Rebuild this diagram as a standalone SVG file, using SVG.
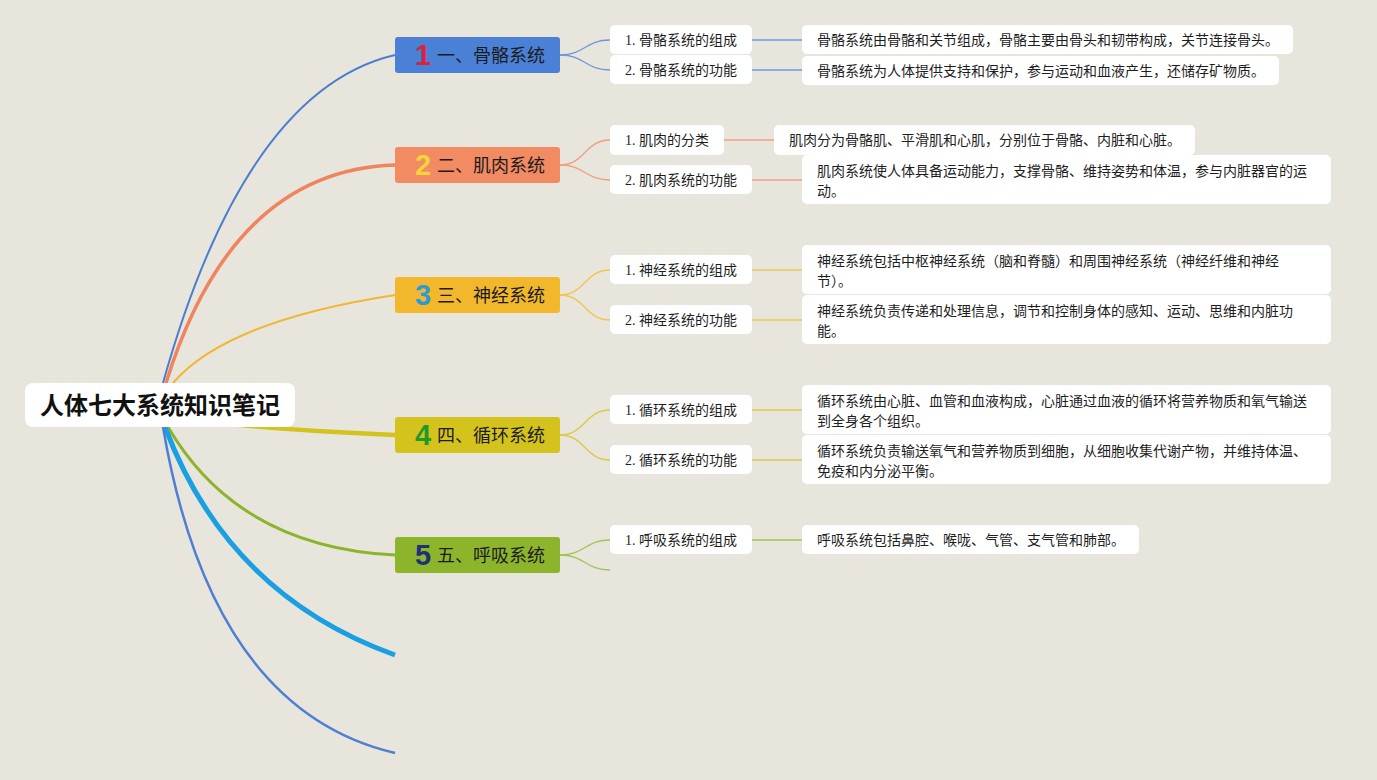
<svg xmlns="http://www.w3.org/2000/svg" width="1377" height="780" viewBox="0 0 1377 780">
<style>
.bg{fill:#e8e5dd}
.root{fill:#ffffff}
.rootT{font-family:"Noto Sans CJK SC","Liberation Sans",sans-serif;font-size:24px;font-weight:700;fill:#111;text-anchor:middle}
.brT{font-family:"Noto Sans CJK SC","Liberation Sans",sans-serif;font-size:18px;fill:#1b1b1b}
.num{font-family:"Liberation Sans","DejaVu Sans",sans-serif;font-size:29px;font-weight:700;text-anchor:middle}
.box{fill:#ffffff}
.chT{font-family:"Liberation Serif","Noto Sans CJK SC",serif;font-size:14px;fill:#1e1e1e}
.dT{font-family:"Noto Sans CJK SC","Liberation Sans",sans-serif;font-size:14px;fill:#1e1e1e}
.main{fill:none;stroke-linecap:butt}
.sub{fill:none;stroke-width:1.3}
</style>
<rect class="bg" x="0" y="0" width="1377" height="780"/>
<g id="connectors">
<path class="main" d="M163 383 Q245 90 395 55" stroke="#4a7fd0" stroke-width="2"/>
<path class="main" d="M166 383 Q232 170 395 165" stroke="#f0845e" stroke-width="3.5"/>
<path class="main" d="M173 383 Q226 321 395 295" stroke="#f0b732" stroke-width="2"/>
<path class="main" d="M170 415 Q230 428 395 435" stroke="#d3c31c" stroke-width="4.5"/>
<path class="main" d="M168 427 Q238 547 395 555" stroke="#8bb42a" stroke-width="3"/>
<path class="main" d="M165 427 Q228 595 395 655" stroke="#1a9fe2" stroke-width="5"/>
<path class="main" d="M163 427 Q211 710 395 753" stroke="#4f7fd3" stroke-width="2.5"/>
<g stroke="#6f98da" class="sub">
<path d="M560 55 C585 55 585 40 610 40"/>
<path d="M560 55 C585 55 585 70 610 70"/>
<path d="M752 40 H802"/>
<path d="M752 70 H802"/>
</g>
<g stroke="#f0a080" class="sub">
<path d="M560 165 C585 165 585 140 610 140"/>
<path d="M560 165 C585 165 585 180 610 180"/>
<path d="M724 140 H774"/>
<path d="M752 180 H802"/>
</g>
<g stroke="#f1c455" class="sub">
<path d="M560 295 C585 295 585 270 610 270"/>
<path d="M560 295 C585 295 585 320 610 320"/>
<path d="M752 270 H802"/>
<path d="M752 320 H802"/>
</g>
<g stroke="#dacb48" class="sub">
<path d="M560 435 C585 435 585 410 610 410"/>
<path d="M560 435 C585 435 585 460 610 460"/>
<path d="M752 410 H802"/>
<path d="M752 460 H802"/>
</g>
<g stroke="#a2c452" class="sub">
<path d="M560 555 C585 555 585 540 610 540"/>
<path d="M560 555 C585 555 585 570 610 570"/>
<path d="M752 540 H802"/>
</g>
</g>
<g id="root">
<rect class="root" x="25" y="383" width="270" height="44" rx="8"/>
<text class="rootT" x="160" y="414">人体七大系统知识笔记</text>
</g>
<g id="b1">
<rect x="395" y="37" width="165" height="36" rx="3" fill="#4a80d6"/>
<text class="num" x="423" y="65" fill="#d8253a">1</text>
<text class="brT" x="437" y="62">一、骨骼系统</text>
</g>
<g id="b2">
<rect x="395" y="147" width="165" height="36" rx="3" fill="#f28a62"/>
<text class="num" x="423" y="175" fill="#f6d43c">2</text>
<text class="brT" x="437" y="172">二、肌肉系统</text>
</g>
<g id="b3">
<rect x="395" y="277" width="165" height="36" rx="3" fill="#f3b72c"/>
<text class="num" x="423" y="305" fill="#2a9ad8">3</text>
<text class="brT" x="437" y="302">三、神经系统</text>
</g>
<g id="b4">
<rect x="395" y="417" width="165" height="36" rx="3" fill="#d5c31d"/>
<text class="num" x="423" y="445" fill="#1f9a2a">4</text>
<text class="brT" x="437" y="442">四、循环系统</text>
</g>
<g id="b5">
<rect x="395" y="537" width="165" height="36" rx="3" fill="#8db52b"/>
<text class="num" x="423" y="565" fill="#1f2f7a">5</text>
<text class="brT" x="437" y="562">五、呼吸系统</text>
</g>
<g id="b1c1"><rect class="box" x="610" y="25" width="142" height="29" rx="5"/><text class="chT" x="625" y="45">1. 骨骼系统的组成</text></g>
<g id="b1c2"><rect class="box" x="610" y="55" width="142" height="29" rx="5"/><text class="chT" x="625" y="75">2. 骨骼系统的功能</text></g>
<g id="b2c1"><rect class="box" x="610" y="125" width="114" height="30" rx="5"/><text class="chT" x="625" y="145">1. 肌肉的分类</text></g>
<g id="b2c2"><rect class="box" x="610" y="165" width="142" height="29" rx="5"/><text class="chT" x="625" y="185">2. 肌肉系统的功能</text></g>
<g id="b3c1"><rect class="box" x="610" y="255" width="142" height="29" rx="5"/><text class="chT" x="625" y="275">1. 神经系统的组成</text></g>
<g id="b3c2"><rect class="box" x="610" y="305" width="142" height="29" rx="5"/><text class="chT" x="625" y="325">2. 神经系统的功能</text></g>
<g id="b4c1"><rect class="box" x="610" y="395" width="142" height="29" rx="5"/><text class="chT" x="625" y="415">1. 循环系统的组成</text></g>
<g id="b4c2"><rect class="box" x="610" y="445" width="142" height="29" rx="5"/><text class="chT" x="625" y="465">2. 循环系统的功能</text></g>
<g id="b5c1"><rect class="box" x="610" y="525" width="142" height="29" rx="5"/><text class="chT" x="625" y="545">1. 呼吸系统的组成</text></g>
<g id="b1d1"><rect class="box" x="802" y="25" width="491" height="29" rx="5"/><text class="dT" x="817" y="45">骨骼系统由骨骼和关节组成，骨骼主要由骨头和韧带构成，关节连接骨头。</text></g>
<g id="b1d2"><rect class="box" x="802" y="56" width="477" height="29" rx="5"/><text class="dT" x="817" y="76">骨骼系统为人体提供支持和保护，参与运动和血液产生，还储存矿物质。</text></g>
<g id="b2d1"><rect class="box" x="774" y="125" width="421" height="30" rx="5"/><text class="dT" x="789" y="145">肌肉分为骨骼肌、平滑肌和心肌，分别位于骨骼、内脏和心脏。</text></g>
<g id="b2d2"><rect class="box" x="802" y="155" width="529" height="49" rx="5"/><text class="dT" x="817" y="176">肌肉系统使人体具备运动能力，支撑骨骼、维持姿势和体温，参与内脏器官的运</text><text class="dT" x="817" y="196">动。</text></g>
<g id="b3d1"><rect class="box" x="802" y="245" width="529" height="49" rx="5"/><text class="dT" x="817" y="266">神经系统包括中枢神经系统（脑和脊髓）和周围神经系统（神经纤维和神经</text><text class="dT" x="817" y="286">节）。</text></g>
<g id="b3d2"><rect class="box" x="802" y="295" width="529" height="49" rx="5"/><text class="dT" x="817" y="316">神经系统负责传递和处理信息，调节和控制身体的感知、运动、思维和内脏功</text><text class="dT" x="817" y="336">能。</text></g>
<g id="b4d1"><rect class="box" x="802" y="385" width="529" height="49" rx="5"/><text class="dT" x="817" y="406">循环系统由心脏、血管和血液构成，心脏通过血液的循环将营养物质和氧气输送</text><text class="dT" x="817" y="426">到全身各个组织。</text></g>
<g id="b4d2"><rect class="box" x="802" y="435" width="529" height="49" rx="5"/><text class="dT" x="817" y="456">循环系统负责输送氧气和营养物质到细胞，从细胞收集代谢产物，并维持体温、</text><text class="dT" x="817" y="476">免疫和内分泌平衡。</text></g>
<g id="b5d1"><rect class="box" x="802" y="525" width="337" height="29" rx="5"/><text class="dT" x="817" y="545">呼吸系统包括鼻腔、喉咙、气管、支气管和肺部。</text></g>
</svg>
